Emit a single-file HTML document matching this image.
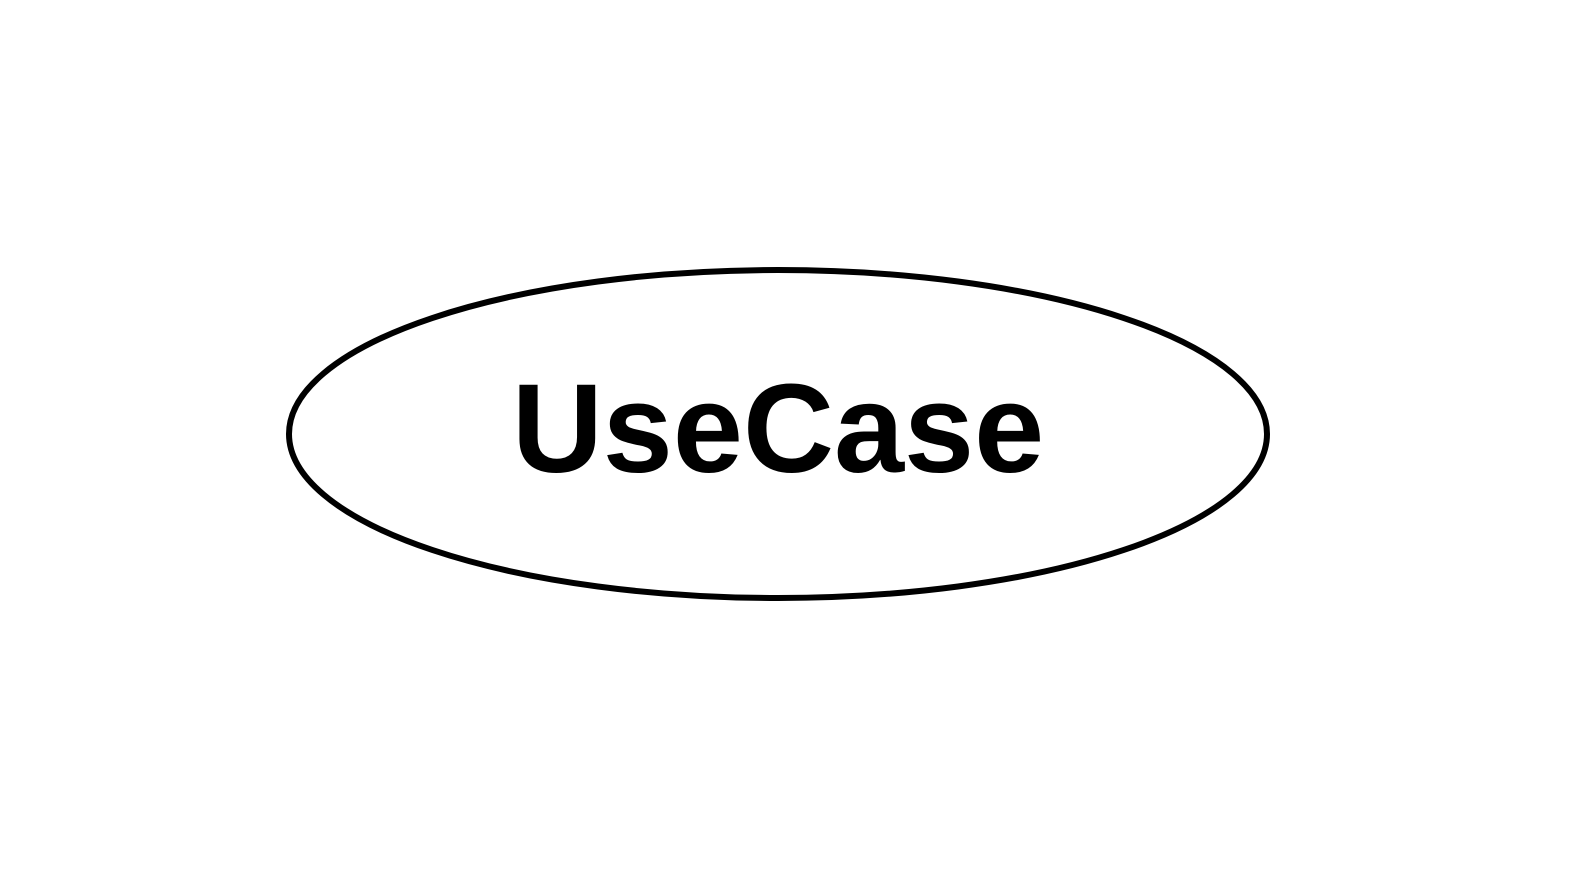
<!DOCTYPE html>
<html><head><style>html,body{margin:0;padding:0;background:#fff;width:1590px;height:869px;overflow:hidden}</style></head>
<body>
<svg width="1590" height="869" xmlns="http://www.w3.org/2000/svg">
<ellipse cx="778" cy="434" rx="489" ry="164" fill="#fff" stroke="#000" stroke-width="6"/>
<text x="778" y="472" text-anchor="middle" font-family="Liberation Sans, sans-serif" font-weight="bold" font-size="126" fill="#000">UseCase</text>
</svg>
</body></html>
